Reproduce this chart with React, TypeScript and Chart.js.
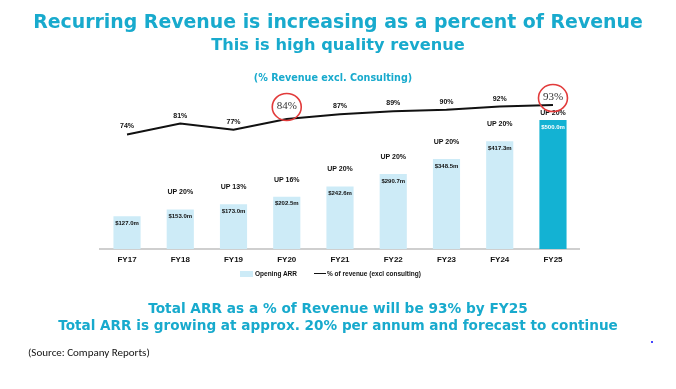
import React, { useEffect, useRef } from "react";
import { Chart, registerables } from "chart.js";

Chart.register(...registerables);

const categories = ["FY17", "FY18", "FY19", "FY20", "FY21", "FY22", "FY23", "FY24", "FY25"];
const openingArr = [127.0, 153.0, 173.0, 202.5, 242.6, 290.7, 348.5, 417.3, 500.0];
const growthLabels = ["", "UP 20%", "UP 13%", "UP 16%", "UP 20%", "UP 20%", "UP 20%", "UP 20%", "UP 20%"];
const pctRevenue = [74, 81, 77, 84, 87, 89, 90, 92, 93];
const highlighted = ["FY20", "FY25"];
const forecastYear = "FY25";

const TEAL = "#18aacd";
const LIGHT = "#cdebf7";
const DARK = "#13b2d3";
const FONT = '"Liberation Sans", Arial, sans-serif';
const HEAD_FONT = '"DejaVu Sans", "Liberation Sans", Arial, sans-serif';

const labelPlugin = {
  id: "customLabels",
  afterDatasetsDraw(chart: any) {
    const ctx = chart.ctx;
    const lineMeta = chart.getDatasetMeta(0);
    const barMeta = chart.getDatasetMeta(1);
    ctx.save();
    ctx.textAlign = "center";
    ctx.textBaseline = "middle";
    // bar labels
    barMeta.data.forEach((bar: any, i: number) => {
      const isF = categories[i] === forecastYear;
      ctx.font = `bold 6px ${FONT}`;
      ctx.fillStyle = isF ? "#ffffff" : "#111111";
      ctx.fillText("$" + openingArr[i].toFixed(1) + "m", bar.x, bar.y + 7);
      if (growthLabels[i]) {
        ctx.font = `bold 7px ${FONT}`;
        ctx.fillStyle = "#111111";
        ctx.fillText(growthLabels[i], bar.x, bar.y - (isF ? 7 : 17));
      }
    });
    // line labels
    lineMeta.data.forEach((pt: any, i: number) => {
      const txt = pctRevenue[i] + "%";
      if (highlighted.includes(categories[i])) {
        const isF = categories[i] === forecastYear;
        const cy = pt.y - (isF ? 8 : 13);
        ctx.font = `11px "Liberation Serif", "Times New Roman", serif`;
        ctx.fillStyle = "#333333";
        ctx.fillText(txt, pt.x, cy);
        ctx.beginPath();
        ctx.ellipse(pt.x, cy + 1, 14.5, 13.5, 0, 0, Math.PI * 2);
        ctx.strokeStyle = "#e23b3b";
        ctx.lineWidth = 1.6;
        ctx.stroke();
      } else {
        ctx.font = `bold 7px ${FONT}`;
        ctx.fillStyle = "#111111";
        ctx.fillText(txt, pt.x, pt.y - 8);
      }
    });
    ctx.restore();
  },
};

export default function App() {
  const ref = useRef<HTMLCanvasElement | null>(null);

  useEffect(() => {
    if (!ref.current) return;
    const chart = new Chart(ref.current, {
      type: "bar",
      data: {
        labels: categories,
        datasets: [
          {
            type: "line",
            label: "% of revenue (excl consulting)",
            data: pctRevenue,
            yAxisID: "yPct",
            borderColor: "#111111",
            borderWidth: 2,
            pointRadius: 0,
            tension: 0,
            order: 0,
          } as any,
          {
            type: "bar",
            label: "Opening ARR",
            data: openingArr,
            yAxisID: "yArr",
            backgroundColor: categories.map((c) => (c === forecastYear ? DARK : LIGHT)),
            borderWidth: 0,
            categoryPercentage: 1,
            barPercentage: 0.51,
            order: 1,
          } as any,
        ],
      },
      options: {
        responsive: false,
        animation: false,
        events: [],
        layout: { padding: { left: 100.4, right: 96.4, top: 94.2, bottom: 120 } },
        plugins: { legend: { display: false }, title: { display: false }, tooltip: { enabled: false } },
        scales: {
          x: {
            offset: true,
            grid: { display: false, drawTicks: false },
            border: { display: true, color: "#cfcfcf", width: 2 },
            ticks: { font: { family: FONT, size: 8, weight: "bold" }, color: "#111111", padding: 6 },
            afterFit: (scale: any) => {
              scale.height = 20;
            },
          },
          yArr: { display: false, min: 0, max: 600 },
          yPct: { display: false, min: 0, max: 100 },
        },
      } as any,
      plugins: [labelPlugin],
    });
    return () => chart.destroy();
  }, []);

  const abs = (center: number, size: number, extra: any = {}) => ({
    position: "absolute" as const,
    left: 0,
    width: 676,
    top: center - size / 2,
    textAlign: "center" as const,
    fontFamily: HEAD_FONT,
    fontWeight: 700,
    fontSize: size,
    lineHeight: `${size}px`,
    color: TEAL,
    whiteSpace: "nowrap" as const,
    ...extra,
  });

  return (
    <div style={{ position: "fixed", left: 0, top: 0, width: 676, height: 389, background: "#fff", overflow: "hidden" }}>
      <canvas ref={ref} width={676} height={389} style={{ position: "absolute", left: 0, top: 0 }} />
      <div style={abs(21, 18.9)}>Recurring Revenue is increasing as a percent of Revenue</div>
      <div style={abs(45, 16.2)}>This is high quality revenue</div>
      <div style={abs(78, 9.6, { left: -5 })}>(% Revenue excl. Consulting)</div>
      <div
        style={{
          position: "absolute",
          top: 270,
          left: 240,
          display: "flex",
          alignItems: "center",
          fontFamily: FONT,
          fontWeight: 700,
          fontSize: 6.5,
          color: "#111",
          whiteSpace: "nowrap",
        }}
      >
        <span style={{ display: "inline-block", width: 13, height: 6, background: LIGHT, marginRight: 2 }} />
        <span style={{ display: "inline-block", width: 37 }}>Opening ARR</span>
        <span style={{ display: "inline-block", width: 12, height: 1.5, background: "#111", marginLeft: 22, marginRight: 1 }} />
        <span>% of revenue (excl consulting)</span>
      </div>
      <div style={abs(309, 13.7)}>Total ARR as a % of Revenue will be 93% by FY25</div>
      <div style={abs(326, 13.6)}>Total ARR is growing at approx. 20% per annum and forecast to continue</div>
      <div
        style={{
          position: "absolute",
          left: 28,
          top: 346,
          fontFamily: '"Carlito", "Liberation Sans", Arial, sans-serif',
          fontSize: 11,
          color: "#111",
          whiteSpace: "nowrap",
        }}
      >
        (Source: Company Reports)
      </div>
      <div style={{ position: "absolute", left: 651, top: 341, width: 1.5, height: 1.5, background: "#4646ff" }} />
    </div>
  );
}
